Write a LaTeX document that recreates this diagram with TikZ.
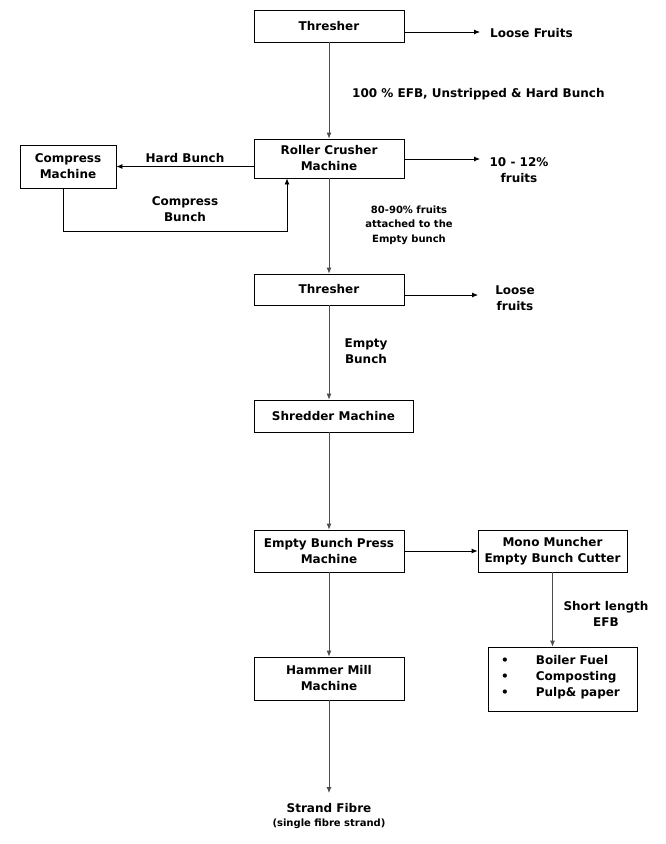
\documentclass[tikz,border=0pt]{standalone}
\usepackage{fontspec}
\setmainfont{DejaVu Sans}
\usetikzlibrary{arrows.meta}

\begin{document}
\begin{tikzpicture}[x=1pt, y=-1pt,
		box/.style={draw, line width=0.8pt, rectangle, align=center, inner sep=0pt, font=\fontsize{12}{16}\selectfont\bfseries},
		lbl/.style={align=center, inner sep=0pt, font=\fontsize{12}{16}\selectfont\bfseries},
		arr/.style={-{Latex[length=6pt,width=5pt]}, line width=0.8pt},
		mainarr/.style={arr, draw=black!70}]
				\useasboundingbox (0,0) rectangle (666,844);

				% blocchi
				\node[box, minimum width=150pt, minimum height=32pt] (thr1) at (329,26) {Thresher};
				\node[box, minimum width=150pt, minimum height=39pt] (roller) at (329,158.5) {Roller Crusher\\Machine};
				\node[box, minimum width=96pt, minimum height=43pt] (comp) at (68,166.5) {Compress\\Machine};
				\node[box, minimum width=150pt, minimum height=31pt] (thr2) at (329,289.5) {Thresher};
				\node[box, minimum width=159pt, minimum height=32pt] (shred) at (333.5,416) {Shredder Machine};
				\node[box, minimum width=150pt, minimum height=42pt] (ebp) at (329,551) {Empty Bunch Press\\Machine};
				\node[box, minimum width=149pt, minimum height=42pt] (mono) at (552.5,551) {Mono Muncher\\Empty Bunch Cutter};
				\node[box, minimum width=149pt, minimum height=64pt] (uses) at (562.5,679) {};
				\node[lbl, align=left, anchor=west] (uselist) at (501,677) {\textbullet\hspace{27pt}Boiler Fuel\\\textbullet\hspace{27pt}Composting\\\textbullet\hspace{27pt}Pulp\& paper};
				\node[box, minimum width=150pt, minimum height=43pt] (hammer) at (329,678.5) {Hammer Mill\\Machine};

				% uscite
				\node[lbl, anchor=west] (lf1) at (490,33) {Loose Fruits};
				\node[lbl] (fr12) at (519,170) {10 - 12\%\\fruits};
				\node[lbl] (lf2) at (515,298) {Loose\\fruits};
				\node[lbl] (strand) at (329,808) {Strand Fibre};
				\node[lbl, font=\fontsize{10}{12}\selectfont\bfseries] (single) at (329,824) {(single fibre strand)};

				% etichette dei collegamenti
				\node[lbl, anchor=west] (efb) at (352,94) {100 \% EFB, Unstripped \& Hard Bunch};
				\node[lbl] (hard) at (185,158) {Hard Bunch};
				\node[lbl] (cbunch) at (185,209.5) {Compress\\Bunch};
				\node[lbl, font=\fontsize{10}{14.5}\selectfont\bfseries] (attached) at (409,225) {80-90\% fruits\\attached to the\\Empty bunch};
				\node[lbl] (empty) at (366,351) {Empty\\Bunch};
				\node[lbl] (short) at (606,614) {Short length\\EFB};

				\coordinate (lfend1) at (480,32);
				\coordinate (frend) at (480,159);
				\coordinate (lfend2) at (478,295);
				\coordinate (cb) at (287,231);
				\coordinate (sfend) at (329,793);

				% linea principale
				\draw[mainarr] (thr1.south) -- (roller.north);
				\draw[mainarr] (roller.south) -- (thr2.north);
				\draw[mainarr] (thr2.south) -- (thr2.south |- shred.north);
				\draw[mainarr] (ebp.north |- shred.south) -- (ebp.north);
				\draw[mainarr] (ebp.south) -- (hammer.north);
				\draw[mainarr] (hammer.south) -- (sfend);
				\draw[mainarr] (mono.south) -- (mono.south |- uses.north);

				% rami laterali
				\draw[arr] (thr1.east |- lfend1) -- (lfend1);
				\draw[arr] (roller.east |- frend) -- (frend);
				\draw[arr] (thr2.east |- lfend2) -- (lfend2);
				\draw[arr] (roller.west |- comp.east) -- (comp.east);
				\draw[arr] ([xshift=-5pt]comp.south) |- (cb) -- (cb |- roller.south);
				\draw[arr] (ebp.east) -- (mono.west);
			\end{tikzpicture}
\end{document}
